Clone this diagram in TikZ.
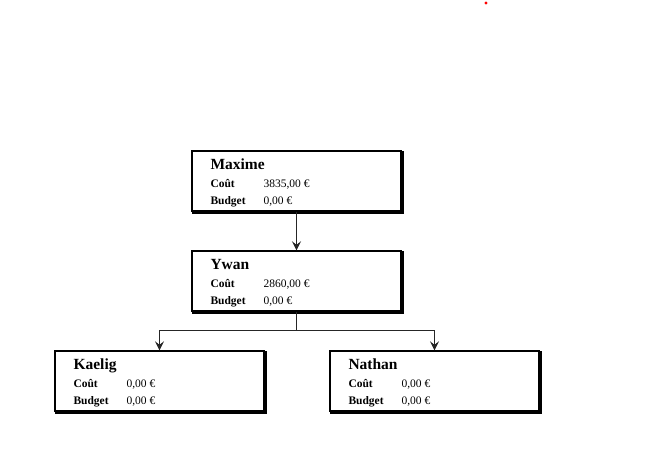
\documentclass[tikz,border=0pt]{standalone}
\usepackage{fontspec}
\setmainfont{Liberation Serif}
\usetikzlibrary{arrows.meta,positioning}
\begin{document}
\begin{tikzpicture}[x=1pt,y=-1pt,
  personbox/.style={draw=black,line width=1.4pt,fill=white,minimum width=209pt,minimum height=60pt,inner sep=0pt},
  conn/.style={draw=black!85,line width=0.9pt},
  tip/.style={-{Stealth[length=9pt,width=9pt,inset=3.5pt]}},
  nm/.style={anchor=base west,font=\fontsize{15.5}{16}\selectfont\bfseries,inner sep=0pt},
  lb/.style={anchor=base west,font=\fontsize{11.5}{12}\selectfont\bfseries,inner sep=0pt},
  vl/.style={anchor=base west,font=\fontsize{11.5}{12}\selectfont,inner sep=0pt}]
\useasboundingbox (0,0) rectangle (662,453);
\fill[red] (486,3) circle (1.6pt);
% boxes
\newcommand{\pbox}[6]{%
  \node[personbox] (#1) at (#2,#3) {};
  \draw[line width=1.6pt] ([xshift=1.4pt,yshift=-1pt]#1.north east) -- ([xshift=1.4pt,yshift=-1.4pt]#1.south east) -- ([xshift=1pt,yshift=-1.4pt]#1.south west);
  \node[nm] (#1n) at ([xshift=19pt,yshift=-19pt]#1.north west) {#4};
  \node[lb] (#1c) at ([xshift=19pt,yshift=-37pt]#1.north west) {Coût};
  \node[vl] (#1cv) at ([xshift=72pt,yshift=-37pt]#1.north west) {#5};
  \node[lb] (#1b) at ([xshift=19pt,yshift=-54pt]#1.north west) {Budget};
  \node[vl] (#1bv) at ([xshift=72pt,yshift=-54pt]#1.north west) {#6};
}
\pbox{max}{296.5}{181}{Maxime}{3835,00 €}{0,00 €}
\pbox{ywan}{296.5}{281}{Ywan}{2860,00 €}{0,00 €}
\pbox{kae}{159.5}{381}{Kaelig}{0,00 €}{0,00 €}
\pbox{nat}{434.5}{381}{Nathan}{0,00 €}{0,00 €}
\coordinate (split) at (296.5,330);
\draw[conn,tip] (max.south) -- (ywan.north);
\draw[conn] (ywan.south) -- (split);
\draw[conn,tip] (split) -| (kae.north);
\draw[conn,tip] (split) -| (nat.north);
\end{tikzpicture}
\end{document}
